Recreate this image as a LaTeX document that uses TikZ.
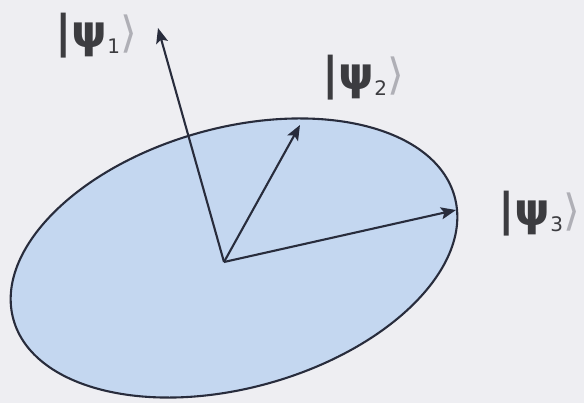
\documentclass[tikz,border=0pt]{standalone}
\usepackage{fontspec}
\setmainfont{DejaVu Sans}
\usetikzlibrary{arrows.meta}
\definecolor{bg}{RGB}{238,238,242}
\definecolor{fillblue}{RGB}{196,215,240}
\definecolor{edge}{RGB}{40,44,60}
\definecolor{txt}{RGB}{60,60,64}
\definecolor{brk}{RGB}{175,175,182}
\newcommand{\ket}[1]{{\color{txt}\fontsize{45}{47}\selectfont\bfseries |ψ\raisebox{-0.12em}{\fontsize{20}{22}\selectfont\mdseries #1}}{\color{brk}\fontsize{43}{45}\selectfont ⟩}}
\begin{document}
\begin{tikzpicture}[x=1pt,y=-1pt,
  vec/.style={draw=edge,line width=2.1pt,-{Stealth[length=15pt,width=12pt,inset=3pt]}},
  lbl/.style={inner sep=0pt,anchor=center}]
\fill[bg] (0,0) rectangle (584,403);
\useasboundingbox (0,0) rectangle (584,403);
\draw[fill=fillblue,draw=edge,line width=2.1pt,rotate around={15.6:(234,258)}]
  (234,258) ellipse [x radius=229, y radius=130];
\coordinate (O) at (224,262);
\coordinate (t1) at (158,28);
\coordinate (t2) at (300,125);
\coordinate (t3) at (456,210);
\draw[vec] (O) -- (t1);
\draw[vec] (O) -- (t2);
\draw[vec] (O) -- (t3);
\node[lbl] (k1) at (96,36) {\ket{1}};
\node[lbl] (k2) at (363,78) {\ket{2}};
\node[lbl] (k3) at (539,214) {\ket{3}};
\end{tikzpicture}
\end{document}
